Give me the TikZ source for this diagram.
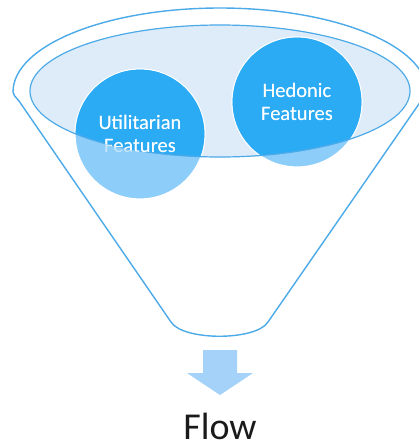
\documentclass[tikz,border=0pt]{standalone}
\usepackage{fontspec}
\setmainfont{Carlito}
\definecolor{rimline}{RGB}{76,170,232}
\definecolor{bowlfill}{RGB}{222,236,250}
\definecolor{featdark}{RGB}{44,171,245}
\definecolor{featlight}{RGB}{140,205,250}
\definecolor{featfaint}{RGB}{196,230,252}
\definecolor{arrowfill}{RGB}{164,210,248}
\definecolor{flowtext}{RGB}{26,26,26}
\tikzset{
  funnelline/.style={draw=rimline, line width=1.4pt},
  featcircle/.style={circle, minimum size=130pt, inner sep=0pt, draw=white, line width=1.2pt},
  feattext/.style={align=center, font=\fontsize{20.5}{23}\selectfont, inner sep=0pt},
}
\begin{document}
\begin{tikzpicture}[x=1pt,y=-1pt]
  \useasboundingbox (0,0) rectangle (419,448);
  \clip (0,0) rectangle (419,448);

  % funnel body: upper half of the rim, tapered sides, rounded spout
  \coordinate (rimc) at (220,92);
  \filldraw[funnelline, fill=white]
    (19,101) .. controls (15,96) and (13,95) .. (13,92)
    arc [start angle=180, end angle=360, x radius=207, y radius=84]
    .. controls (427,95) and (425,96) .. (421,101)
    -- (268,322) .. controls (256,341) and (183,341) .. (171,322) -- cycle;

  % inner opening of the funnel
  \coordinate (mouth) at (220,91);
  \fill[bowlfill] (mouth) ellipse [x radius=190, y radius=66];

  % feature circles, lighter where they hang below the opening
  \node[featcircle, fill=featlight] (util) at (140,134) {};
  \node[featcircle, fill=featlight] (hed) at (297,102) {};
  \begin{scope}
    \clip (mouth) ellipse [x radius=190, y radius=66];
    \fill[featdark] (util.center) circle (64.4);
    \fill[featdark] (hed.center) circle (64.4);
  \end{scope}
  \draw[funnelline, line width=1.2pt] (mouth) ellipse [x radius=190, y radius=66];

  % labels: faint below the opening, white inside it
  \node[feattext, text=featfaint] (utilT) at (util.center) {Utilitarian\\Features};
  \node[feattext, text=featfaint] (hedT) at (hed.center) {Hedonic\\Features};
  \begin{scope}
    \clip (mouth) ellipse [x radius=190, y radius=66];
    \node[feattext, text=white] at (util.center) {Utilitarian\\Features};
    \node[feattext, text=white] at (hed.center) {Hedonic\\Features};
  \end{scope}

  % outflow arrow and caption
  \coordinate (spout) at (220,350);
  \fill[arrowfill] (203,350) -- (237,350) -- (237,373) -- (253,373)
    -- (220,395) -- (187,373) -- (203,373) -- cycle;
  \node[anchor=base, text=flowtext, font=\fontsize{38}{40}\selectfont, inner sep=0pt]
    (flow) at (220,439) {Flow};
\end{tikzpicture}
\end{document}
